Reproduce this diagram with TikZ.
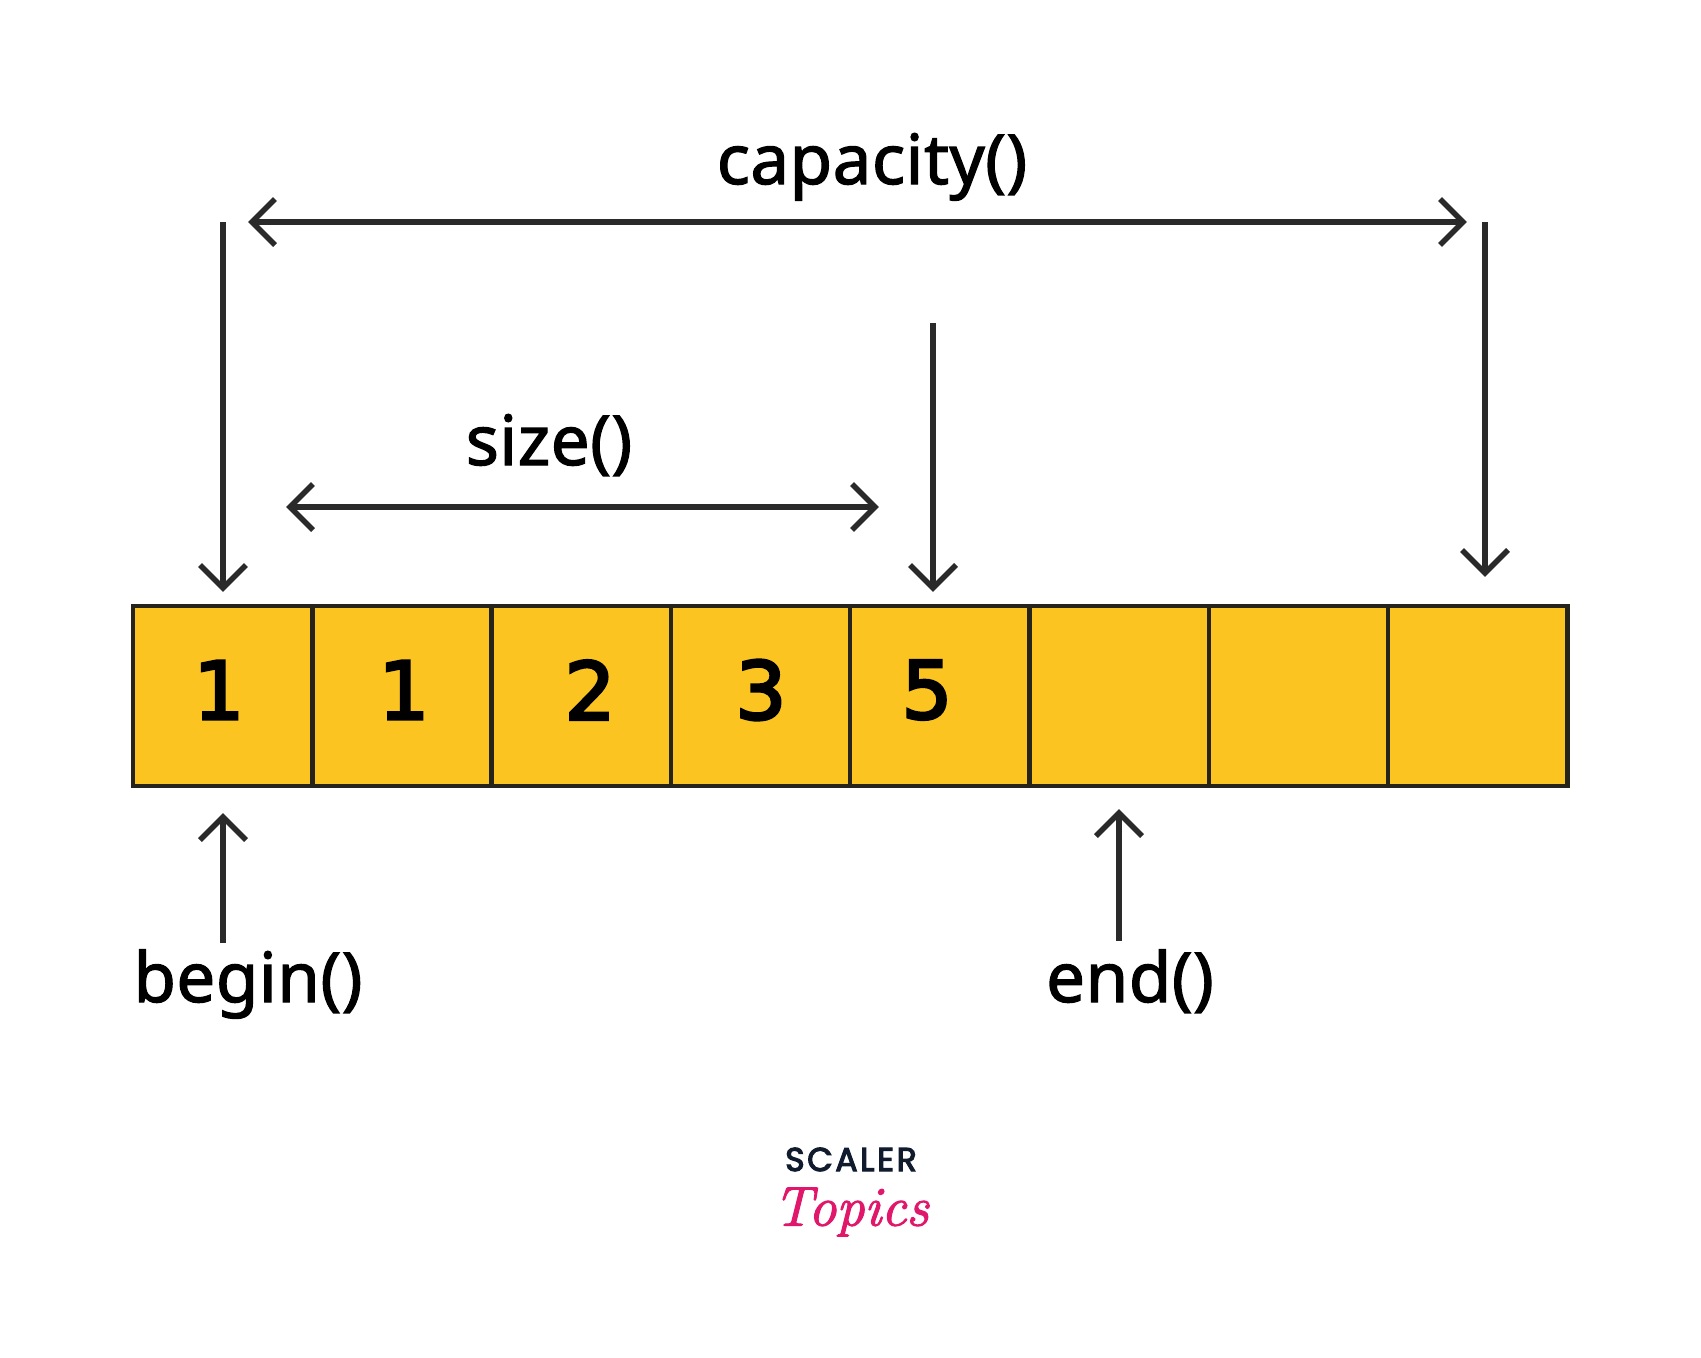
\documentclass[tikz,border=0pt]{standalone}
\usepackage{fontspec}
\setmainfont{Noto Sans}[FakeBold=1.8,LetterSpace=0.8]
\newfontfamily\logofont{Poppins}[LetterSpace=8,FakeBold=3.5]
\newfontfamily\digitfont{DejaVu Sans}[FakeBold=3.5]
\newfontfamily\scriptlogo{Latin Modern Roman}[ItalicFeatures={FakeBold=2}]
\definecolor{cellfill}{HTML}{FCC421}
\definecolor{ink}{HTML}{2A2A2A}
\definecolor{cellline}{HTML}{26241A}
\definecolor{navy}{HTML}{101B2E}
\definecolor{pinklogo}{HTML}{E0176B}
\usetikzlibrary{calc}
\tikzset{
  x=1pt,y=-1pt,
  cellbox/.style={draw=cellline,line width=4.4pt,fill=cellfill,minimum width=179.3pt,minimum height=180pt,inner sep=0pt,outer sep=0pt},
  lbl/.style={font=\fontsize{69}{69}\selectfont,text=black,inner sep=0pt},
  digit/.style={font=\digitfont\fontsize{80}{80}\selectfont,text=black,inner sep=0pt},
  conn/.style={draw=ink,line width=5.4pt},
  tipE/.style={draw=ink,line width=5.4pt,line cap=butt,line join=miter}
}
\newcommand{\headat}[2]{% tip coordinate, rotation (0 = pointing right)
  \draw[tipE,rotate around={#2:(#1)}] ($(#1)+(-23,-23)$) -- (#1) -- ($(#1)+(-23,23)$);}
\begin{document}
\begin{tikzpicture}
\useasboundingbox (0,0) rectangle (1701,1358);
\fill[white] (0,0) rectangle (1701,1358);
\foreach \i/\name in {0/a,1/b,2/c,3/d,4/e,5/f,6/g,7/h}{
  \node[cellbox] (\name) at ({133+179.3*(\i+0.5)},696) {};
}
\node[digit] (d1) at (219,690) {1};
\node[digit] (d2) at (404,690) {1};
\node[digit] (d3) at (590,690) {2};
\node[digit] (d4) at (761,690) {3};
\node[digit] (d5) at (927,690) {5};

\node[lbl,anchor=base] (cap) at (872,184) {capacity()};
\node[lbl,anchor=base] (sz) at (549,465) {size()};
\node[lbl,anchor=base] (bg) at (248,1002) {begin()};
\node[lbl,anchor=base] (en) at (1130,1002) {end()};

\coordinate (c1) at (223,222);   \coordinate (t1) at (223,588);
\coordinate (c2) at (933,323);   \coordinate (t2) at (933,588);
\coordinate (c3) at (1485,222);  \coordinate (t3) at (1485,573);
\coordinate (cl) at (252,222);   \coordinate (cr) at (1463,222);
\coordinate (sl) at (290,507);   \coordinate (sr) at (875,507);
\coordinate (b1) at (223,943);   \coordinate (b2) at (223,817);
\coordinate (e1) at (1119,941);  \coordinate (e2) at (1119,813);

\draw[conn] (c1) -- (t1);
\draw[conn] (c2) -- (t2);
\draw[conn] (c3) -- (t3);
\draw[conn] (cl) -- (cr);
\draw[conn] (sl) -- (sr);
\draw[conn] (b1) -- (b2);
\draw[conn] (e1) -- (e2);
\headat{t1}{-90}
\headat{t2}{-90}
\headat{t3}{-90}
\headat{cr}{0}
\headat{cl}{180}
\headat{sr}{0}
\headat{sl}{180}
\headat{b2}{90}
\headat{e2}{90}

\node[font=\logofont\fontsize{33}{33}\selectfont,text=navy,inner sep=0pt,anchor=base] (logoa) at (851,1171) {SCALER};
\node[font=\scriptlogo\itshape\fontsize{56}{56}\selectfont,text=pinklogo,inner sep=0pt] (logob) at (851,1212) {Topics};
\end{tikzpicture}
\end{document}
